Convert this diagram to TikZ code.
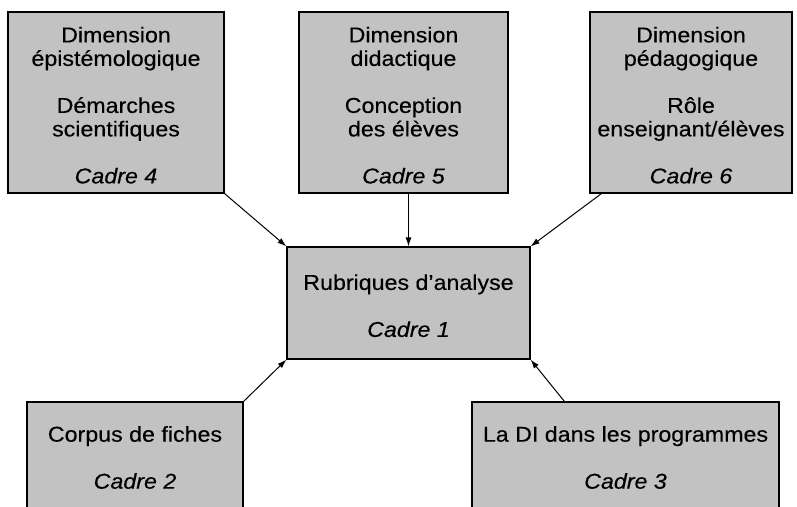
\documentclass[tikz,border=0pt]{standalone}
\usepackage{fontspec}
\setmainfont{Liberation Sans}[FakeStretch=1.08,FakeBold=0.3]
\usetikzlibrary{arrows.meta}
\definecolor{boxgray}{RGB}{194,194,194}
\newcommand{\toppad}{\rule{0pt}{21pt}}
\tikzset{
  cadrebox/.style={draw=black, line width=1.2pt, fill=boxgray, inner sep=0pt,
    align=center, font=\fontsize{21.5}{23.5}\selectfont},
  feed/.style={draw=black, line width=1pt, -{Latex[length=9pt,width=6pt]}}
}
\begin{document}
\begin{tikzpicture}[x=1pt,y=-1pt]
\useasboundingbox (0,0) rectangle (797,506);
\clip (0,0) rectangle (797,506);
\fill[white] (0,0) rectangle (797,506);
\node[cadrebox, minimum width=216pt, minimum height=181pt] (b4) at (116,102.5)
  {\toppad Dimension\\épistémologique\\[23.5pt]Démarches\\scientifiques\\[23.5pt]\textit{Cadre 4}};
\node[cadrebox, minimum width=209pt, minimum height=181pt] (b5) at (403.5,102.5)
  {\toppad Dimension\\didactique\\[23.5pt]Conception\\des élèves\\[23.5pt]\textit{Cadre 5}};
\node[cadrebox, minimum width=202pt, minimum height=181pt] (b6) at (691,102.5)
  {\toppad Dimension\\pédagogique\\[23.5pt]Rôle\\enseignant/élèves\\[23.5pt]\textit{Cadre 6}};
\node[cadrebox, minimum width=243pt, minimum height=112pt] (b1) at (408.5,303)
  {\toppad Rubriques d’analyse\\[23.5pt]\textit{Cadre 1}};
\node[cadrebox, minimum width=216pt, minimum height=111pt] (b2) at (135,457.5)
  {Corpus de fiches\\[23.5pt]\textit{Cadre 2}};
\node[cadrebox, minimum width=307pt, minimum height=111pt] (b3) at (625.5,457.5)
  {La DI dans les programmes\\[23.5pt]\textit{Cadre 3}};
\draw[feed] (b4.south east) -- (b1.north west);
\draw[feed] (b1.north |- b5.south) -- (b1.north);
\draw[feed] ([xshift=12pt]b6.south west) -- (b1.north east);
\draw[feed] (b2.north east) -- (b1.south west);
\draw[feed] ([xshift=93pt]b3.north west) -- (b1.south east);
\end{tikzpicture}
\end{document}
